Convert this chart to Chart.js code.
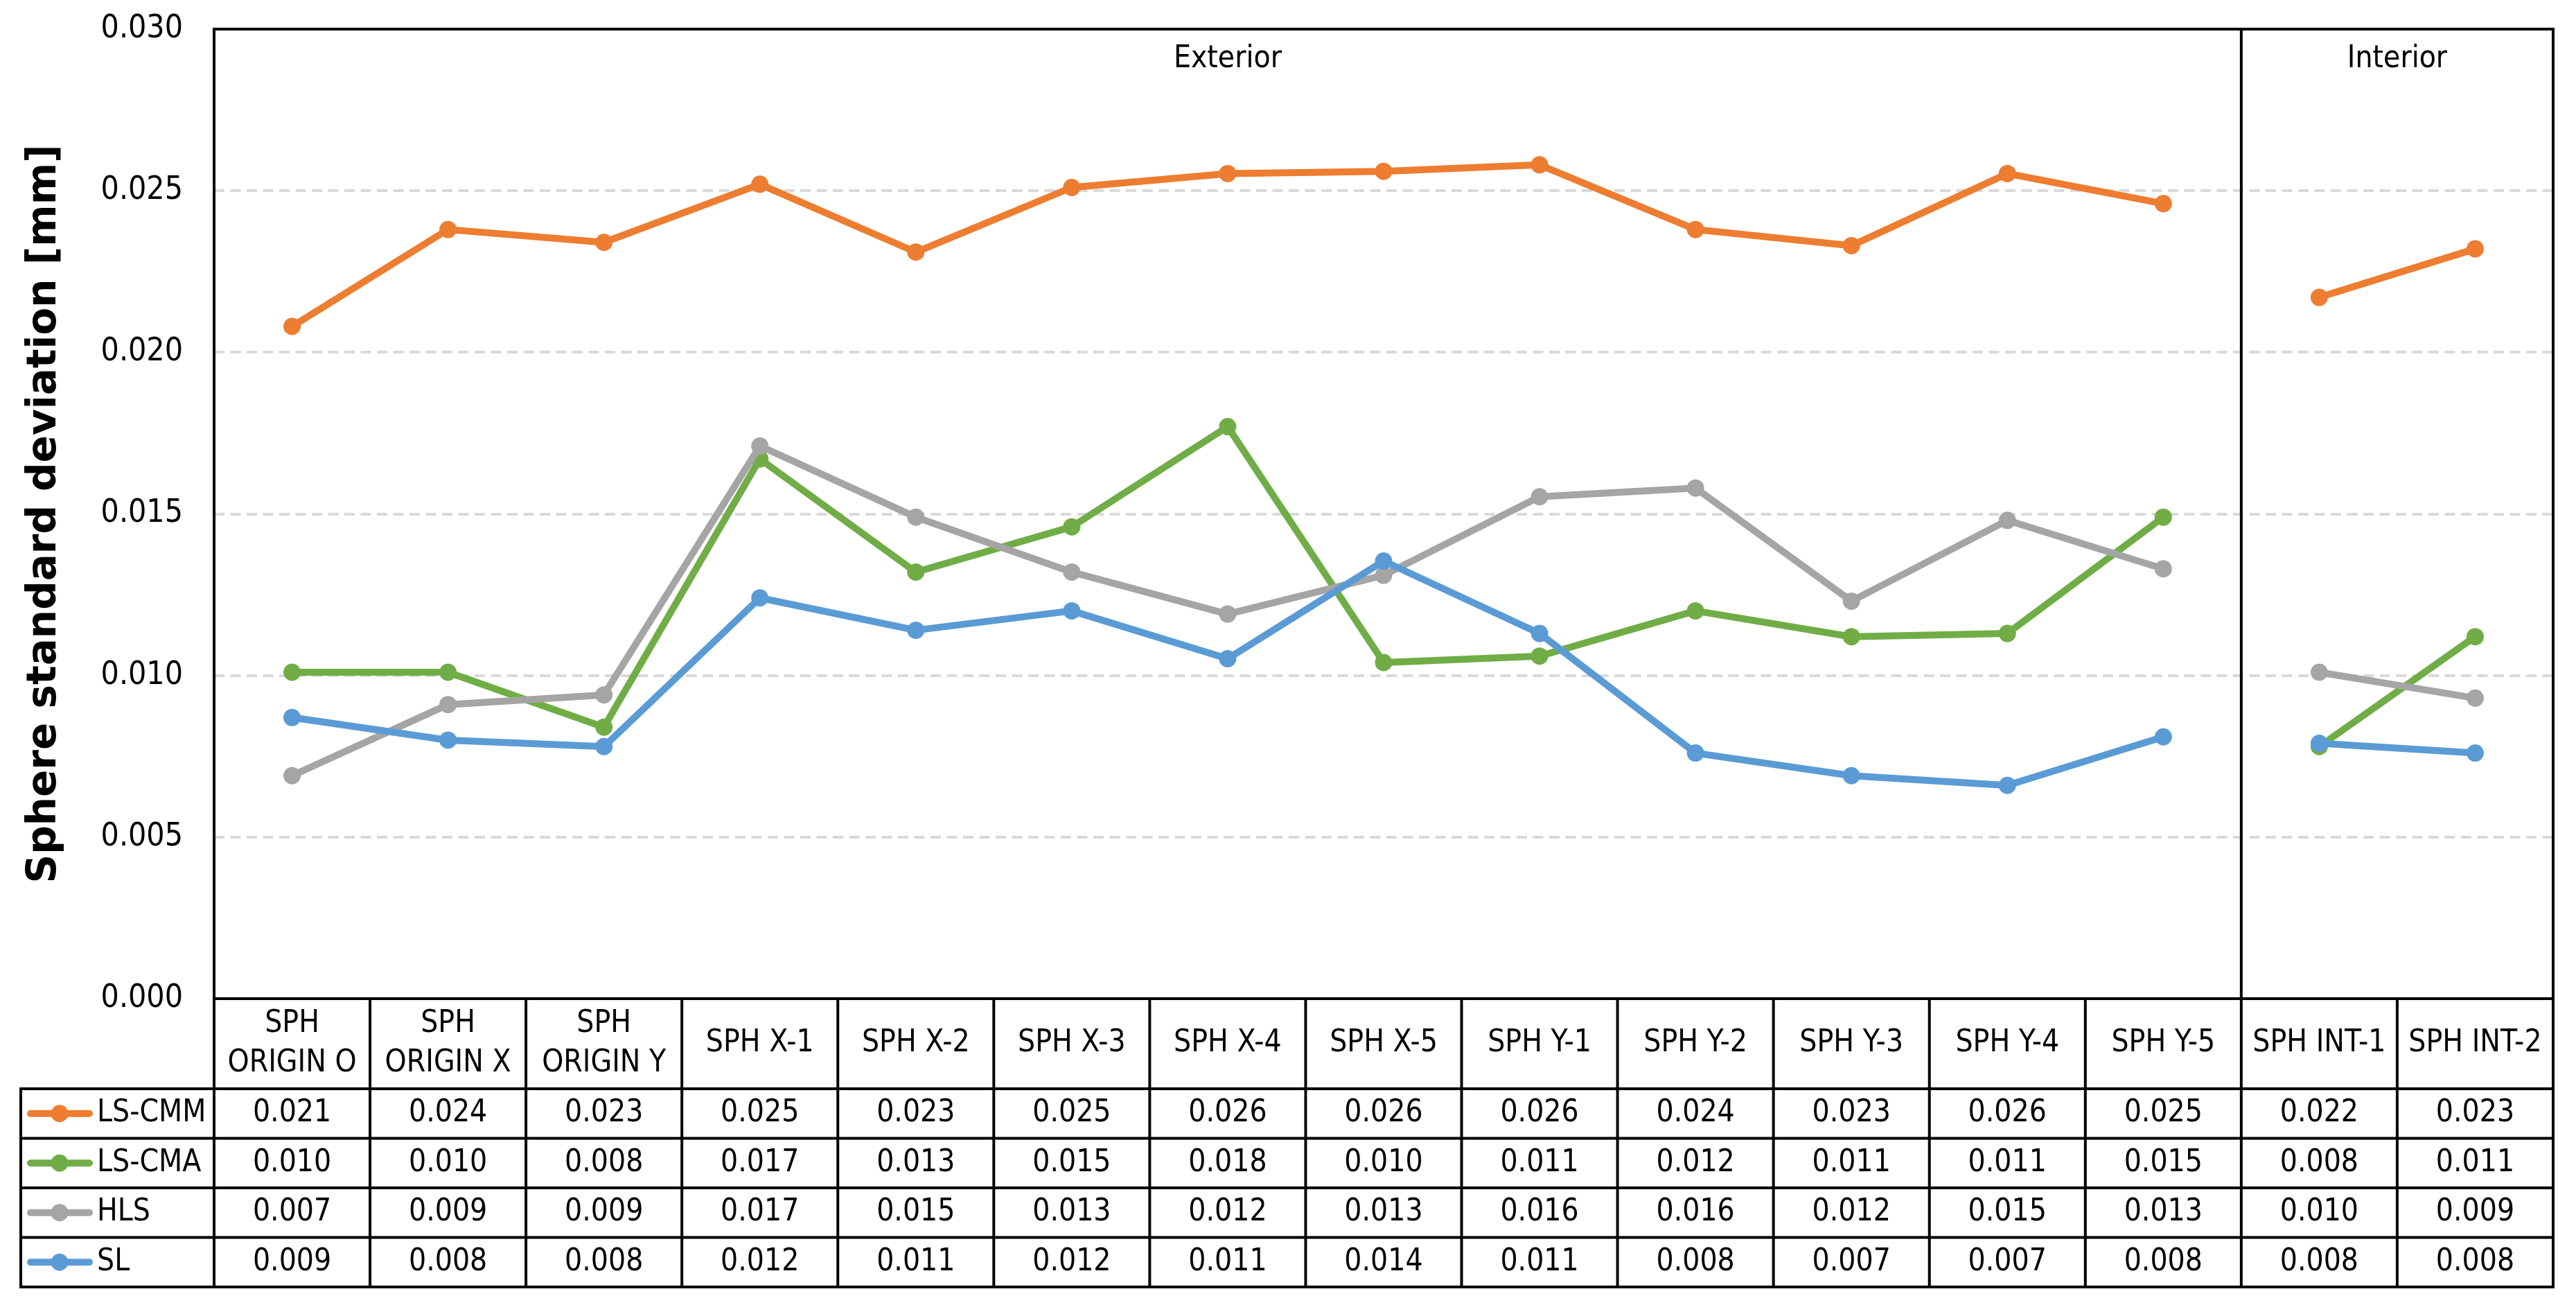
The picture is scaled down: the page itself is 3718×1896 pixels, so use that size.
<!DOCTYPE html>
<html>
<head>
<meta charset="utf-8">
<script src="https://cdn.jsdelivr.net/npm/chart.js@4.4.0/dist/chart.umd.min.js"></script>
<style>
  body { margin: 0; background: #fff; }
  canvas { display: block; }
</style>
</head>
<body>
<canvas id="myChart" width="3718" height="1896"></canvas>
<script>
// categories (multi-line where the table header wraps)
const categories = [
    ['SPH', 'ORIGIN O'], ['SPH', 'ORIGIN X'], ['SPH', 'ORIGIN Y'],
    'SPH X-1', 'SPH X-2', 'SPH X-3', 'SPH X-4', 'SPH X-5',
    'SPH Y-1', 'SPH Y-2', 'SPH Y-3', 'SPH Y-4', 'SPH Y-5',
    'SPH INT-1', 'SPH INT-2'
];

const seriesNames = ['LS-CMM', 'LS-CMA', 'HLS', 'SL'];

const lsCmm = [0.0208, 0.0238, 0.0234, 0.0252, 0.0231, 0.0251, 0.02553, 0.0256, 0.0258, 0.0238, 0.0233, 0.02553, 0.0246, 0.0217, 0.0232];
const lsCma = [0.0101, 0.0101, 0.0084, 0.0167, 0.0132, 0.0146, 0.0177, 0.0104, 0.0106, 0.0120, 0.0112, 0.0113, 0.0149, 0.0078, 0.0112];
const hls = [0.0069, 0.0091, 0.0094, 0.0171, 0.0149, 0.0132, 0.0119, 0.0131, 0.01553, 0.0158, 0.0123, 0.0148, 0.0133, 0.0101, 0.0093];
const sl = [0.0087, 0.0080, 0.0078, 0.0124, 0.0114, 0.0120, 0.01052, 0.01354, 0.0113, 0.0076, 0.0069, 0.0066, 0.0081, 0.0079, 0.0076];

// y axis range / ticks
const yMin = 0;
const yMax = 0.030;
const yStep = 0.005;

// groups above the plot: name, first and last category index
const sectionNames = ['Exterior', 'Interior'];
const sectionStarts = [0, 13];
const sectionEnds = [12, 14];

const colors = ['#ED7D31', '#70AD47', '#A5A5A5', '#5B9BD5'];
const textFont = "'Liberation Sans Narrow', 'Arial Narrow', 'DejaVu Sans Condensed', sans-serif";

const allSeries = [lsCmm, lsCma, hls, sl];

function makeDataset(index) {
    const color = colors[index];
    return {
        label: seriesNames[index],
        data: allSeries[index],
        borderColor: color,
        backgroundColor: color,
        borderWidth: 10,
        borderJoinStyle: 'round',
        pointRadius: 12.5,
        pointBorderWidth: 0,
        pointBackgroundColor: color,
        tension: 0,
        order: 4 - index,
        segment: {
            // no line between the last exterior and first interior sphere
            borderColor: ctx => ctx.p0DataIndex === sectionEnds[0] ? 'rgba(0,0,0,0)' : undefined,
        },
    };
}

const frameAndTable = {
    id: 'frameAndTable',
    afterDraw(chart) {
        const ctx = chart.ctx;
        const area = chart.chartArea;
        const x = chart.scales.x;
        const half = (x.getPixelForValue(1) - x.getPixelForValue(0)) / 2;
        const colLeft = i => x.getPixelForValue(i) - half;
        const colRight = i => x.getPixelForValue(i) + half;

        const tableLeft = 30;
        const headerTop = area.bottom;
        const headerBottom = headerTop + 130;
        const rowH = 71.5;
        const tableBottom = headerBottom + rowH * seriesNames.length;

        ctx.save();
        ctx.strokeStyle = '#000';
        ctx.lineCap = 'square';

        // horizontal lines
        ctx.lineWidth = 4;
        const hLine = (x0, x1, y) => { ctx.beginPath(); ctx.moveTo(x0, y); ctx.lineTo(x1, y); ctx.stroke(); };
        hLine(area.left, area.right, area.top);
        hLine(area.left, area.right, headerTop);
        for (let r = 0; r <= seriesNames.length; r++) {
            hLine(tableLeft, area.right, headerBottom + r * rowH);
        }

        // vertical lines
        const vLine = (xx, y0, y1) => { ctx.beginPath(); ctx.moveTo(xx, y0); ctx.lineTo(xx, y1); ctx.stroke(); };
        vLine(area.left, area.top, tableBottom);
        vLine(area.right, area.top, tableBottom);
        vLine(tableLeft, headerBottom, tableBottom);
        categories.forEach((c, i) => {
            if (i > 0) vLine(colLeft(i), headerTop, tableBottom);
        });
        sectionEnds.forEach((end, s) => {
            if (s < sectionEnds.length - 1) vLine(colRight(end), area.top, headerTop);
        });

        // section labels
        ctx.fillStyle = '#000';
        ctx.font = '44px ' + textFont;
        ctx.textAlign = 'center';
        ctx.textBaseline = 'middle';
        sectionNames.forEach((name, s) => {
            const cx = (colLeft(sectionStarts[s]) + colRight(sectionEnds[s])) / 2;
            ctx.fillText(name, cx, area.top + 44);
        });

        // header labels
        const headerMid = (headerTop + headerBottom) / 2;
        categories.forEach((c, i) => {
            const cx = x.getPixelForValue(i);
            const lines = Array.isArray(c) ? c : [c];
            const lh = 57;
            lines.forEach((ln, k) => {
                ctx.fillText(ln, cx, headerMid + (k - (lines.length - 1) / 2) * lh);
            });
        });

        // rows: legend key + values
        allSeries.forEach((values, r) => {
            const cy = headerBottom + rowH * (r + 0.5);
            const color = colors[r];
            ctx.strokeStyle = color;
            ctx.lineWidth = 10;
            ctx.lineCap = 'round';
            hLine(tableLeft + 14, tableLeft + 99, cy);
            ctx.fillStyle = color;
            ctx.beginPath();
            ctx.arc(tableLeft + 56, cy, 12.5, 0, Math.PI * 2);
            ctx.fill();

            ctx.fillStyle = '#000';
            ctx.textAlign = 'left';
            ctx.fillText(seriesNames[r], tableLeft + 110, cy);
            ctx.textAlign = 'center';
            values.forEach((v, i) => {
                ctx.fillText(v.toFixed(3), x.getPixelForValue(i), cy);
            });
        });
        ctx.restore();
    }
};

const chart = new Chart(document.getElementById('myChart').getContext('2d'), {
    type: 'line',
    data: {
        labels: categories,
        datasets: seriesNames.map((n, i) => makeDataset(i)),
    },
    options: {
        responsive: false,
        devicePixelRatio: 1,
        animation: false,
        layout: {
            padding: { left: 0, right: 33, top: 42, bottom: 455 },
        },
        plugins: {
            legend: { display: false },
            tooltip: { enabled: false },
        },
        scales: {
            x: {
                type: 'category',
                display: false,
                offset: true,
            },
            y: {
                min: yMin,
                max: yMax,
                afterFit: scale => {
                    scale.width = 309;
                    scale.paddingTop = 0;
                    scale.paddingBottom = 0;
                },
                ticks: {
                    stepSize: yStep,
                    padding: 45,
                    color: '#000',
                    font: { family: textFont, size: 46 },
                    callback: v => Number(v).toFixed(3),
                },
                grid: {
                    drawTicks: false,
                    color: '#D9D9D9',
                    lineWidth: 4,
                },
                border: { display: false, dash: [15, 8.5] },
                title: {
                    display: true,
                    text: 'Sphere standard deviation [mm]',
                    color: '#000',
                    font: { family: "'DejaVu Sans', sans-serif", size: 58, weight: 'bold' },
                    padding: { top: 30, bottom: 0 },
                },
            },
        },
    },
    plugins: [frameAndTable],
});
</script>
</body>
</html>
